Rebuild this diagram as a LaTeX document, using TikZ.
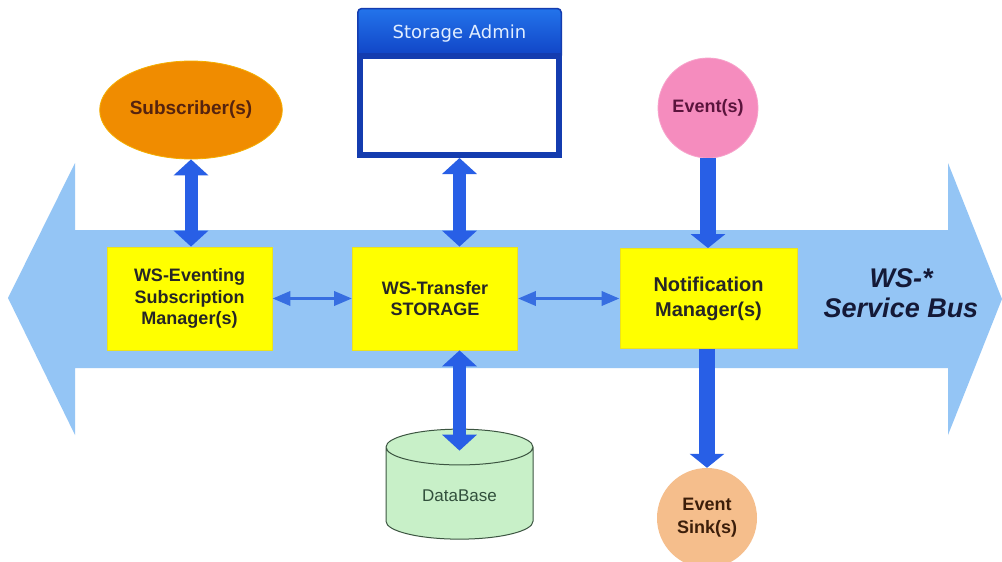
\documentclass[tikz,border=0pt]{standalone}
\usepackage{fontspec}
\setmainfont{Liberation Sans}
\newfontfamily\adminfont{DejaVu Sans}
\usepackage{tikz}
\usetikzlibrary{arrows.meta,shapes.geometric}
\pgfdeclarelayer{buslayer}
\pgfdeclarelayer{nodelayer}
\pgfdeclarelayer{edgelayer}
\pgfsetlayers{buslayer,nodelayer,edgelayer,main}
\definecolor{busblue}{RGB}{148,197,245}
\definecolor{boxyellow}{RGB}{255,255,0}
\definecolor{boxedge}{RGB}{236,226,30}
\definecolor{arrowblue}{RGB}{40,95,230}
\definecolor{linkblue}{RGB}{55,110,225}
\definecolor{subfill}{RGB}{240,140,0}
\definecolor{subtext}{RGB}{85,35,15}
\definecolor{evfill}{RGB}{245,140,190}
\definecolor{evtext}{RGB}{90,20,60}
\definecolor{sinkfill}{RGB}{245,190,140}
\definecolor{sinktext}{RGB}{60,30,10}
\definecolor{dbfill}{RGB}{200,240,200}
\definecolor{dbline}{RGB}{60,85,65}
\definecolor{dbtext}{RGB}{50,80,60}
\definecolor{bustext}{RGB}{20,25,55}
\definecolor{winlight}{RGB}{35,115,235}
\definecolor{windark}{RGB}{15,65,195}
\definecolor{winedge}{RGB}{20,60,175}
\definecolor{wintext}{RGB}{225,238,255}
\tikzstyle{box}=[rectangle, fill=boxyellow, draw=boxedge, line width=0.8pt, minimum width=165pt, minimum height=103pt, inner sep=0pt, align=center, text=black!85, font=\bfseries\fontsize{18}{21.5}\selectfont]
\tikzstyle{sub}=[ellipse, fill=subfill, draw=subfill!70!yellow, line width=0.8pt, minimum width=167pt, minimum height=98pt, text=subtext, font=\bfseries\fontsize{19}{22}\selectfont]
\tikzstyle{evt}=[circle, fill=evfill, draw=evfill!80!white, line width=0.8pt, minimum size=100pt, inner sep=0pt, align=center, text=evtext, font=\bfseries\fontsize{18}{23}\selectfont]
\tikzstyle{sink}=[circle, fill=sinkfill, minimum size=100pt, inner sep=0pt, align=center, text=sinktext, font=\bfseries\fontsize{18}{23}\selectfont]
\tikzstyle{dbcyl}=[cylinder, shape border rotate=90, aspect=0.44, fill=dbfill, draw=dbline, line width=1pt, minimum width=147pt, minimum height=110pt, text=dbtext, font=\fontsize{17}{20}\selectfont]
\tikzstyle{wintitle}=[rectangle, rounded corners=4pt, top color=winlight, bottom color=windark, draw=winedge, line width=1.5pt, minimum width=203.5pt, minimum height=51pt, inner sep=0pt, text=wintext, font=\adminfont\fontsize{18}{21}\selectfont]
\tikzstyle{winbody}=[rectangle, fill=white, draw=winedge, line width=6pt, minimum width=199pt, minimum height=99pt, inner sep=0pt]
\tikzstyle{bustag}=[align=center, text=bustext, font=\bfseries\itshape\fontsize{27}{30}\selectfont]
\tikzstyle{fatboth}=[draw=arrowblue, line width=13pt, {Triangle[width=34pt,length=16pt]}-{Triangle[width=34pt,length=16pt]}]
\tikzstyle{fatone}=[draw=arrowblue, line width=16pt, -{Triangle[width=34pt,length=14pt]}]
\tikzstyle{thinboth}=[draw=linkblue, line width=3.5pt, {Triangle[width=14pt,length=18pt]}-{Triangle[width=14pt,length=18pt]}]

\begin{document}
\begin{tikzpicture}[x=1pt, y=-1pt]
            \useasboundingbox (0,0) rectangle (1002,562);
            \begin{pgfonlayer}{buslayer}
                \fill [white] (0,0) rectangle (1002,562);
                % service bus
                \fill [busblue] (8,298) -- (75,163) -- (75,230) -- (948,230) -- (948,163) -- (1002,299)
                    -- (948,435) -- (948,368) -- (75,368) -- (75,435) -- cycle;
            \end{pgfonlayer}
            \begin{pgfonlayer}{nodelayer}
                \node [style=sub] (sub) at (191,110) {Subscriber(s)};
                \node [style=wintitle] (admintitle) at (459.5,34) {Storage Admin};
                \node [style=winbody] (admin) at (459.5,105.5) {};
                \node [style=evt] (evt) at (708,108) {Event(s)};
                \node [style=box] (wse) at (189.5,298.5) {WS-Eventing\\Subscription\\Manager(s)};
                \node [style=box] (store) at (435,298.5) {WS-Transfer\\STORAGE};
                \node [style=box, minimum width=177pt, minimum height=100pt, font=\bfseries\fontsize{20}{25}\selectfont] (notif) at (708.5,298.5) {Notification\\Manager(s)};
                \node [style=bustag] (bus) at (901,293) {WS-*\\Service Bus};
                \node [style=dbcyl] (db) at (459.5,496) {DataBase};
                \node [style=sink] (sink) at (707,518) {Event\\Sink(s)};
            \end{pgfonlayer}
            \begin{pgfonlayer}{edgelayer}
                \draw [style=fatboth] (sub.south) -- (sub.south |- wse.north);
                \draw [style=fatboth] (admin.south) -- (admin.south |- store.north);
                \draw [style=fatone] (evt.south) -- (evt.south |- notif.north);
                \draw [style=thinboth] (wse) -- (store);
                \draw [style=thinboth] (store) -- (notif);
                \draw [style=fatboth] (store.south -| db.north) -- ([yshift=-22pt]db.north);
                \draw [style=fatone] (notif.south -| sink.north) -- (sink.north);
            \end{pgfonlayer}
\end{tikzpicture}
\end{document}
